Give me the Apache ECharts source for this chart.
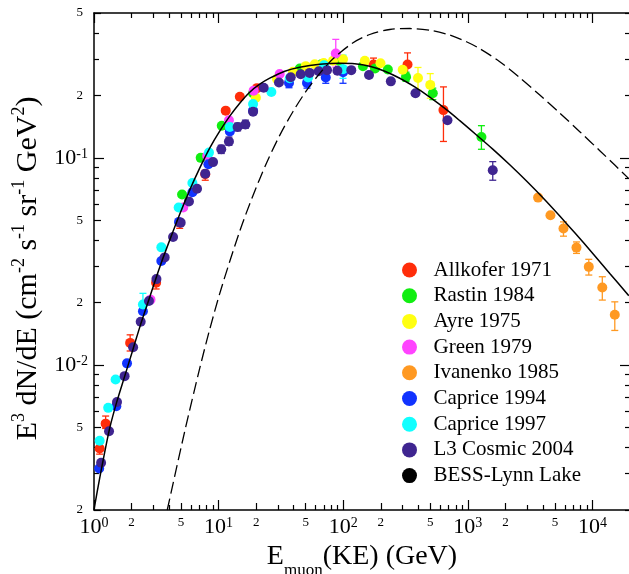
<!DOCTYPE html>
<html>
<head>
<meta charset="utf-8">
<title>muon spectrum</title>
<script src="https://cdn.jsdelivr.net/npm/echarts@6/dist/echarts.min.js"></script>
<style>
  body { margin: 0; background: #fff; }
  #chart { width: 629px; height: 574px; }
</style>
</head>
<body>
<div id="chart"></div>
<script>
// data: [E (GeV), E^3 dN/dE]
var allkofer = [[1.11, 3.96e-3], [1.24, 5.22e-3], [1.95, 1.28e-2], [3.15, 2.50e-2], [4.87, 4.86e-2], [7.81, 8.34e-2],
  [11.4, 0.169], [14.8, 0.197], [20.3, 0.217], [175, 0.282], [328, 0.282], [637, 0.170]];
var allkoferErr = [[1.11, 3.72e-3, 4.19e-3], [1.24, 4.95e-3, 5.68e-3], [1.95, 1.17e-2, 1.40e-2], [3.15, 2.33e-2, 2.66e-2],
  [4.87, 4.57e-2, 5.10e-2], [7.81, 7.80e-2, 8.72e-2], [175, 0.265, 0.303], [328, 0.244, 0.321], [637, 0.120, 0.220]];

var rastin = [[5.09, 0.0666], [7.18, 0.100], [10.6, 0.143], [18.9, 0.205], [44.8, 0.270], [66.8, 0.283], [92.0, 0.294],
  [144, 0.277], [180, 0.270], [228, 0.267], [319, 0.246], [523, 0.205], [1285, 0.126]];
var rastinErr = [[319, 0.234, 0.259], [523, 0.191, 0.217], [1285, 0.110, 0.143]];

var ayre = [[19.9, 0.195], [29.4, 0.240], [39.5, 0.260], [50.0, 0.277], [59.1, 0.283], [69.7, 0.287], [82.8, 0.294],
  [99.6, 0.299], [149, 0.294], [199, 0.286], [300, 0.266], [398, 0.243], [499, 0.225]];
var ayreErr = [[398, 0.212, 0.273], [499, 0.194, 0.255]];

var green = [[2.84, 2.07e-2], [5.20, 5.76e-2], [8.10, 0.102], [12.1, 0.152], [19.1, 0.211], [30.9, 0.254], [87.1, 0.319]];
var greenErr = [[87.1, 0.274, 0.373]];

var ivanenko = [[3660, 6.43e-2], [4600, 5.29e-2], [5850, 4.56e-2], [7440, 3.69e-2], [9340, 2.98e-2], [11990, 2.37e-2], [15100, 1.75e-2]];
var ivanenkoErr = [[5850, 4.19e-2, 4.91e-2], [7440, 3.46e-2, 3.93e-2], [9340, 2.72e-2, 3.24e-2], [11990, 2.06e-2, 2.67e-2],
  [15100, 1.47e-2, 2.02e-2]];

var caprice94 = [[1.10, 3.17e-3], [1.51, 6.34e-3], [1.84, 1.02e-2], [2.47, 1.82e-2], [3.47, 3.18e-2], [4.81, 4.91e-2],
  [6.16, 6.83e-2], [8.28, 9.32e-2], [12.3, 0.134], [18.9, 0.169], [36.7, 0.230], [51.2, 0.230], [72.4, 0.244], [99.6, 0.259]];
var caprice94Err = [[36.7, 0.218, 0.242], [51.2, 0.217, 0.245], [72.4, 0.229, 0.265], [99.6, 0.229, 0.296]];

var caprice97 = [[1.11, 4.32e-3], [1.30, 6.22e-3], [1.49, 8.53e-3], [2.47, 1.96e-2], [3.47, 3.70e-2], [4.78, 5.76e-2],
  [6.16, 7.57e-2], [8.37, 0.106], [12.3, 0.141], [18.9, 0.182], [26.5, 0.208], [37.2, 0.242], [52.2, 0.244], [70.1, 0.280], [99.6, 0.268]];
var caprice97Err = [[2.47, 1.84e-2, 2.22e-2], [99.6, 0.242, 0.313]];

var l3 = [[1.14, 3.38e-3], [1.32, 4.80e-3], [1.53, 6.64e-3], [1.76, 8.85e-3], [2.06, 1.22e-2], [2.37, 1.62e-2], [2.76, 2.04e-2],
  [3.17, 2.60e-2], [3.69, 3.31e-2], [4.31, 4.15e-2], [4.96, 4.87e-2], [5.78, 6.16e-2], [6.71, 7.09e-2], [7.81, 8.39e-2],
  [9.02, 9.54e-2], [10.5, 0.110], [12.1, 0.120], [14.2, 0.141], [16.4, 0.145], [18.9, 0.167], [23.0, 0.218], [30.5, 0.231],
  [37.9, 0.245], [45.6, 0.253], [53.8, 0.257], [63.6, 0.262], [74.1, 0.265], [89.8, 0.263], [116, 0.265], [161, 0.251],
  [241, 0.234], [380, 0.205], [686, 0.152], [1584, 0.0872]];
var l3Err = [[10.5, 0.105, 0.115], [12.1, 0.115, 0.126], [14.2, 0.135, 0.147], [16.4, 0.139, 0.152], [1584, 0.078, 0.0959]];

var bess = [];

// model curves (read as points)
var fitCurve = [[1.0, 2.01e-3], [1.111, 2.85e-3], [1.219, 3.80e-3], [1.337, 4.97e-3], [1.521, 6.63e-3], [1.764, 8.85e-3],
  [2.045, 1.181e-2], [2.371, 1.577e-2], [2.799, 2.128e-2], [3.368, 2.97e-2], [4.05, 4.01e-2], [4.873, 5.35e-2], [5.86, 6.99e-2],
  [7.05, 8.92e-2], [8.48, 0.1114], [10.2, 0.1345], [12.28, 0.1589], [14.77, 0.1836], [17.76, 0.2074], [21.37, 0.2267],
  [25.71, 0.2424], [33.93, 0.2619], [44.76, 0.2739], [64.8, 0.2831], [93.7, 0.2862], [123.7, 0.2847], [163.2, 0.2767],
  [215.4, 0.2619], [284.1, 0.2421], [374.8, 0.2198], [494.6, 0.1963], [677.3, 0.1703], [861, 0.1512], [1136, 0.1311],
  [1584, 0.1102], [2169, 0.0926], [2970, 0.0771], [4142, 0.0628], [5465, 0.0524], [7211, 0.0435], [10056, 0.0346],
  [13765, 0.0277], [19560, 0.02162]];
var dashCurve = [[3.87, 2.0e-3], [5.344, 4.79e-3], [7.05, 9.64e-3], [8.48, 1.487e-2], [10.53, 2.357e-2], [14.77, 4.425e-2],
  [18.78, 6.535e-2], [24.19, 9.42e-2], [30.93, 0.1284], [39.55, 0.1674], [50.67, 0.2110], [64.8, 0.2556], [82.8, 0.3007],
  [119.9, 0.3591], [163.2, 0.3938], [236.2, 0.4163], [341.8, 0.4209], [522.7, 0.4103], [715.5, 0.3912], [974.5, 0.3632],
  [1246, 0.3363], [1803, 0.2911], [2609, 0.2437], [3777, 0.2009], [5465, 0.1645], [7909, 0.1338], [11446, 0.1083],
  [15101, 0.0923], [19560, 0.0794]];

var seriesNames = ['Allkofer 1971', 'Rastin 1984', 'Ayre 1975', 'Green 1979', 'Ivanenko 1985',
  'Caprice 1994', 'Caprice 1997', 'L3 Cosmic 2004', 'BESS-Lynn Lake'];
var seriesColors = ['#ff2d0a', '#11ee11', '#ffff11', '#ff44ff', '#ff9922', '#1133ff', '#11ffff', '#3f2590', '#000000'];
var seriesPoints = [allkofer, rastin, ayre, green, ivanenko, caprice94, caprice97, l3, bess];
var seriesErrors = [allkoferErr, rastinErr, ayreErr, greenErr, ivanenkoErr, caprice94Err, caprice97Err, l3Err, []];

var xMin = 1, xMax = 2e4, yMin = 2e-3, yMax = 0.5;
var FONT = 'Liberation Serif';
var lg = Math.log10;

// tick positions (in log10 units) for mantissas m * 10^k inside [lo, hi]
function logValues(lo, hi, mants) {
  var out = [];
  for (var k = Math.floor(lg(lo)); k <= Math.ceil(lg(hi)); k++) {
    mants.forEach(function (m) {
      var v = lg(m) + k;
      if (v >= lg(lo) - 1e-9 && v <= lg(hi) + 1e-9) out.push(Math.min(Math.max(v, lg(lo)), lg(hi)));
    });
  }
  return out;
}

function logLabel(v) {
  var k = Math.floor(v + 1e-9);
  var m = Math.round(Math.pow(10, v - k));
  if (m === 1) return '{d|10}{e|' + k + '}';
  return '{m|' + m + '}';
}

function mkAxis(dim, pos, values, len, showLine) {
  return {
    type: 'value',
    position: pos,
    min: dim === 'x' ? lg(xMin) : lg(yMin),
    max: dim === 'x' ? lg(xMax) : lg(yMax),
    axisLine: { show: !!showLine, onZero: false, lineStyle: { color: '#000', width: 1.5 } },
    axisTick: { show: true, inside: true, length: len, customValues: values, lineStyle: { color: '#000', width: 1.2 } },
    axisLabel: { show: false },
    splitLine: { show: false },
    axisPointer: { show: false }
  };
}

var major = [1], mid = [2, 5], minor = [3, 4, 6, 7, 8, 9], nonMajor = [2, 3, 4, 5, 6, 7, 8, 9];

var xBottom = mkAxis('x', 'bottom', logValues(xMin, xMax, major), 10, true);
xBottom.axisLabel = {
  show: true, margin: 6, customValues: logValues(xMin, 1e4, [1, 2, 5]),
  formatter: logLabel,
  rich: {
    d: { fontFamily: FONT, fontSize: 22, color: '#000' },
    e: { fontFamily: FONT, fontSize: 14, color: '#000', verticalAlign: 'top' },
    m: { fontFamily: FONT, fontSize: 13, color: '#000', verticalAlign: 'top' }
  }
};
xBottom.name = '{m|E}{b|muon}{m|(KE) (GeV)}';
xBottom.nameLocation = 'middle';
xBottom.nameGap = 30;
xBottom.nameTextStyle = {
  rich: {
    m: { fontFamily: FONT, fontSize: 28, color: '#000', lineHeight: 36, verticalAlign: 'top' },
    b: { fontFamily: FONT, fontSize: 17, color: '#000', lineHeight: 17, verticalAlign: 'bottom' }
  }
};

var yLeft = mkAxis('y', 'left', logValues(yMin, yMax, major), 10, true);
yLeft.axisLabel = {
  show: true, margin: 6, customValues: logValues(yMin, yMax, [1, 2, 5]),
  formatter: logLabel,
  rich: {
    d: { fontFamily: FONT, fontSize: 22, color: '#000' },
    e: { fontFamily: FONT, fontSize: 14, color: '#000', verticalAlign: 'top' },
    m: { fontFamily: FONT, fontSize: 13, color: '#000', padding: [0, 5, 0, 0] }
  }
};
yLeft.name = '{m|E}{s|3}{m| dN/dE (cm}{s|-2}{m| s}{s|-1}{m| sr}{s|-1}{m| GeV}{s|2}{p|)}';
yLeft.nameLocation = 'middle';
yLeft.nameRotate = 90;
yLeft.nameGap = 50;
yLeft.nameTextStyle = {
  rich: {
    m: { fontFamily: FONT, fontSize: 30, color: '#000', lineHeight: 33, verticalAlign: 'bottom' },
    p: { fontFamily: FONT, fontSize: 30, color: '#000', lineHeight: 33, verticalAlign: 'bottom', padding: [0, 14, 0, 0] },
    s: { fontFamily: FONT, fontSize: 18, color: '#000', lineHeight: 18, verticalAlign: 'top' }
  }
};

var xAxes = [
  xBottom,
  mkAxis('x', 'bottom', logValues(xMin, xMax, mid), 7),
  mkAxis('x', 'bottom', logValues(xMin, xMax, minor), 5),
  mkAxis('x', 'top', logValues(xMin, xMax, major), 10, true),
  mkAxis('x', 'top', logValues(xMin, xMax, nonMajor), 5)
];
var yAxes = [
  yLeft,
  mkAxis('y', 'left', logValues(yMin, yMax, mid), 7),
  mkAxis('y', 'left', logValues(yMin, yMax, minor), 5),
  mkAxis('y', 'right', logValues(yMin, yMax, major), 10),
  mkAxis('y', 'right', logValues(yMin, yMax, nonMajor), 5)
];

function toLog(arr) {
  return arr.map(function (p) { return [lg(p[0]), lg(p[1])]; });
}

function errorSeries(errs, color) {
  return {
    type: 'custom',
    silent: true,
    dimensions: ['x', 'lo', 'hi'],
    encode: { x: 0, y: [1, 2] },
    data: errs.map(function (e) { return [lg(e[0]), lg(e[1]), lg(e[2])]; }),
    renderItem: function (params, api) {
      var lo = api.coord([api.value(0), api.value(1)]);
      var hi = api.coord([api.value(0), api.value(2)]);
      var w = 3.5;
      var st = { stroke: color, lineWidth: 1.3 };
      return {
        type: 'group',
        children: [
          { type: 'line', shape: { x1: lo[0], y1: lo[1], x2: hi[0], y2: hi[1] }, style: st },
          { type: 'line', shape: { x1: lo[0] - w, y1: lo[1], x2: lo[0] + w, y2: lo[1] }, style: st },
          { type: 'line', shape: { x1: hi[0] - w, y1: hi[1], x2: hi[0] + w, y2: hi[1] }, style: st }
        ]
      };
    }
  };
}

var series = [
  {
    type: 'line', data: toLog(fitCurve), smooth: 0.3, symbol: 'none', silent: true,
    lineStyle: { color: '#000', width: 1.5 }
  },
  {
    type: 'line', data: toLog(dashCurve), smooth: 0.3, symbol: 'none', silent: true,
    lineStyle: { color: '#000', width: 1.3, type: [12, 5] }
  }
];
seriesErrors.forEach(function (errs, i) {
  if (errs.length) series.push(errorSeries(errs, seriesColors[i]));
});
seriesNames.forEach(function (name, i) {
  series.push({
    type: 'scatter', name: name, data: toLog(seriesPoints[i]),
    symbol: 'circle', symbolSize: 10,
    itemStyle: { color: seriesColors[i], opacity: 1 }
  });
});

var chart = echarts.init(document.getElementById('chart'));
chart.setOption({
  animation: false,
  backgroundColor: '#fff',
  grid: { left: 94, top: 13, width: 536, height: 497, outerBoundsMode: 'none' },
  xAxis: xAxes,
  yAxis: yAxes,
  legend: {
    orient: 'vertical', left: 397, top: 254.5,
    itemWidth: 38, itemHeight: 15, itemGap: 4.7,
    icon: 'circle', selectedMode: false,
    textStyle: { fontFamily: FONT, fontSize: 21, color: '#000' },
    data: seriesNames
  },
  series: series
});
</script>
</body>
</html>
